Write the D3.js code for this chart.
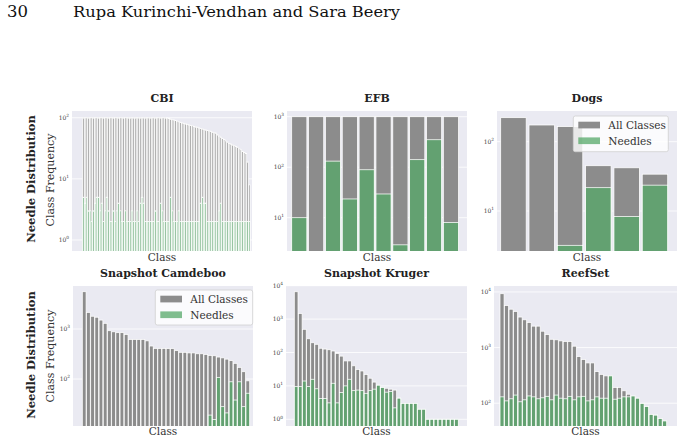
<!DOCTYPE html>
<html><head><meta charset="utf-8">
<script src="https://cdn.jsdelivr.net/npm/d3@7"></script>
<style>body{margin:0;background:#fff;} svg{display:block;font-family:"DejaVu Serif",serif;}</style>
</head><body><svg id="c" width="683" height="443"></svg>
<script>
// ---------- text ----------
const pageNumber = "30";
const runningHead = "Rupa Kurinchi-Vendhan and Sara Beery";
const rowLabel = "Needle Distribution";
const yLabel = "Class Frequency";
const xLabel = "Class";
const seriesNames = ["All Classes", "Needles"];
const titles = ["CBI", "EFB", "Dogs", "Snapshot Camdeboo", "Snapshot Kruger", "ReefSet"];

// ---------- data ----------
const cbiAll = [100,100,100,100,100,100,100,100,100,100,100,100,100,100,100,100,100,100,100,100,
  100,100,100,100,100,100,100,100,100,100,100,100,100,100,100,100,100,100,100,100,
  100,100,100,100,100,100,100,100,100,100,
  99,97,95,93,92,90,88,86,84,82,81,80,78,76,75,74,72,71,70,68,67,66,64,63,62,61,60,58,57,56,
  53,50,48,46,44,42,40,38,37,36,35,34,33,31,30,28,27,26,19,8];
const cbiNeedles = [5,4,5,3,3,2,3,4,5,5,3,4,2,3,5,3,2,2,3,2,3,4,3,2,2,3,2,2,2,3,2,2,3,2,4,5,4,2,2,2,
  2,2,2,3,2,2,4,3,2,2,2,2,5,3,2,2,2,3,2,2,2,2,2,2,2,2,2,2,2,2,4,5,4,4,2,2,2,2,2,2,
  2,3,4,2,2,2,2,2,2,2,2,2,2,2,2,2,2,2,2,2];
const efbAll = [1000,1000,1000,1000,1000,1000,1000,1000,1000,1000];
const efbNeedles = [10,0,132,23.5,89,29.5,2.9,141,350,8];
const dogsAll = [222,174,165,45,42,34];
const dogsNeedles = [0,0,3.2,21.7,8.3,23.6];
const camAll = [5570,2150,1800,1720,1510,1300,925,880,845,845,780,620,620,620,620,580,457,410,410,410,
  405,405,369,342,342,333,333,320,320,310,297,292,275,265,250,233,206,171,140,92];
const camNeedles = [0,0,0,0,0,0,0,0,0,0,0,0,0,0,0,0,0,0,0,0,
  0,0,0,0,0,0,0,0,0,0,19,15.6,108,28,21,88,38,88,28,52];
const krugerAll = [6600,1480,495,258,196,176,134,127,121,111,94,78,56,56,40,31,28,22,17,13,
  10.5,9,8.5,8,7.5,4.3,3,3,3,3,2,2,1,1,1,1,1,1,1,1];
const krugerNeedles = [9.5,9.5,14,9.5,15.8,8.2,4.2,4.2,3.1,12,3.1,6.3,10,15.8,7.2,7.5,7.2,6,7.2,8,
  10.5,9,6.5,6.8,2.2,4.3,3,3,3,3,2,2,1,1,1,1,1,1,1,1];
const reefAll = [9300,5700,4900,4470,3540,3160,2830,2430,2430,1970,1710,1410,1380,1320,1290,1290,1060,690,610,530,
  530,370,330,310,310,192,192,167,145,135,123,99,87,63,61,53,48];
const reefNeedles = [130,110,120,140,106,115,135,130,120,125,133,115,140,123,120,133,115,130,133,110,
  115,130,123,123,310,118,123,130,130,135,123,99,87,63,61,53,48];

// ---------- axis ticks / limits ----------
const cbiTicks = [1,10,100],            cbiLim = [0.66,129];
const efbTicks = [10,100,1000],         efbLim = [2.19,1298];
const dogsTicks = [10,100],             dogsLim = [2.65,277];
const camTicks = [100,1000],            camLim = [11.5,7244];
const krugerTicks = [1,10,100,1000,10000], krugerLim = [0.63,9800];
const reefTicks = [100,1000,10000],     reefLim = [38.9,12800];

// ---------- drawing ----------
const svg = d3.select("#c");
const GRAY = "#8c8c8c", GREEN = "#55a868";

svg.append("text").attr("x",7).attr("y",17).attr("font-size",16.5)
  .attr("fill","#111").text(pageNumber);
svg.append("text").attr("x",73).attr("y",17).attr("font-size",15.2)
  .attr("textLength",327).attr("lengthAdjust","spacingAndGlyphs").attr("fill","#111").text(runningHead);

const rows = [{top:111, bottom:251, titleY:102, xlabY:261, labC:179},
              {top:286, bottom:426, titleY:277, xlabY:435, labC:355}];
const layout = [
  {row:0, x0:72,  x1:252, b0:82.7, b1:250, sw:0.85},
  {row:0, x0:287, x1:467, b0:291.7, b1:458.5, sw:0.75},
  {row:0, x0:497, x1:677, b0:500.7, b1:667.7, sw:0.75},
  {row:1, x0:73,  x1:253, b0:82.3, b1:249.7, sw:0.75},
  {row:1, x0:286, x1:467, b0:294.3, b1:458.3, sw:0.75},
  {row:1, x0:494, x1:677, b0:500, b1:666.7, sw:0.75}
];
const panelData = [
  [cbiAll, cbiNeedles, cbiTicks, cbiLim],
  [efbAll, efbNeedles, efbTicks, efbLim],
  [dogsAll, dogsNeedles, dogsTicks, dogsLim],
  [camAll, camNeedles, camTicks, camLim],
  [krugerAll, krugerNeedles, krugerTicks, krugerLim],
  [reefAll, reefNeedles, reefTicks, reefLim]
];

const defs = svg.append("defs");
panelData.forEach(([all, needles, ticks, lim], i) => {
  const L = layout[i], R = rows[L.row];
  const g = svg.append("g");
  defs.append("clipPath").attr("id","cp"+i).append("rect")
    .attr("x",L.x0).attr("y",R.top).attr("width",L.x1-L.x0).attr("height",R.bottom-R.top);
  g.append("rect").attr("x",L.x0).attr("y",R.top).attr("width",L.x1-L.x0)
    .attr("height",R.bottom-R.top).attr("fill","#eaeaf2");
  const y = d3.scaleLog().domain(lim).range([R.bottom, R.top]);
  const x = d3.scaleBand().domain(d3.range(all.length)).range([L.b0, L.b1]).paddingInner(0.1).paddingOuter(0);
  g.selectAll("line.grid").data(ticks).join("line").attr("class","grid")
    .attr("x1",L.x0).attr("x2",L.x1).attr("y1",d=>y(d)).attr("y2",d=>y(d))
    .attr("stroke","#fff").attr("stroke-width",0.8);
  const tl = g.selectAll("text.tick").data(ticks).join("text").attr("class","tick")
    .attr("x",L.x0-3).attr("y",d=>y(d)+2).attr("text-anchor","end")
    .attr("font-size",6).attr("fill","#444");
  tl.append("tspan").text("10");
  tl.append("tspan").attr("dy",-2.6).attr("font-size",4.3).text(d=>String(Math.round(Math.log10(d))));
  const bars = g.append("g").attr("clip-path","url(#cp"+i+")");
  bars.selectAll("rect.all").data(all).join("rect").attr("class","all")
    .attr("x",(d,j)=>x(j)).attr("width",x.bandwidth())
    .attr("y",d=>y(d)).attr("height",d=>R.bottom+2-y(d))
    .attr("fill",GRAY).attr("stroke","#fff").attr("stroke-width",L.sw);
  const nd = needles.map((v,j)=>({v,j})).filter(o=>o.v>lim[0]);
  bars.selectAll("rect.nd").data(nd).join("rect").attr("class","nd")
    .attr("x",o=>x(o.j)).attr("width",x.bandwidth())
    .attr("y",o=>y(o.v)).attr("height",o=>R.bottom+2-y(o.v))
    .attr("fill",GREEN).attr("fill-opacity",0.75).attr("stroke","#fff").attr("stroke-width",L.sw);
  svg.append("text").attr("x",(L.x0+L.x1)/2).attr("y",R.titleY).attr("text-anchor","middle")
    .attr("font-size",11).attr("font-weight","bold").attr("fill","#222").text(titles[i]);
  svg.append("text").attr("x",(L.x0+L.x1)/2).attr("y",R.xlabY).attr("text-anchor","middle")
    .attr("font-size",10.5).attr("fill","#333").text(xLabel);
});

rows.forEach(R => {
  svg.append("text").attr("transform",`translate(31,${R.labC}) rotate(-90)`)
    .attr("text-anchor","middle").attr("dominant-baseline","central")
    .attr("font-size",11.5).attr("font-weight","bold").attr("fill","#222").text(rowLabel);
  svg.append("text").attr("transform",`translate(50,${R.labC+1}) rotate(-90)`)
    .attr("text-anchor","middle").attr("dominant-baseline","central")
    .attr("font-size",11).attr("fill","#333").text(yLabel);
});

// legends
function legend(x, y, w, h) {
  const g = svg.append("g");
  g.append("rect").attr("x",x).attr("y",y).attr("width",w).attr("height",h).attr("rx",2)
    .attr("fill","#fff").attr("fill-opacity",0.8).attr("stroke","#d0d0d0").attr("stroke-width",0.8);
  seriesNames.forEach((s,k) => {
    const cy = y + 9 + k*15.7;
    g.append("rect").attr("x",x+5).attr("y",cy-3.3).attr("width",21.7).attr("height",6.7)
      .attr("fill", k===0 ? GRAY : GREEN).attr("fill-opacity", k===0 ? 1 : 0.75);
    g.append("text").attr("x",x+35).attr("y",cy).attr("dominant-baseline","central")
      .attr("font-size",10.5).attr("fill","#333").text(s);
  });
}
legend(573.3, 116, 95, 35.7);
legend(155.3, 290, 97.4, 35);
</script></body></html>
